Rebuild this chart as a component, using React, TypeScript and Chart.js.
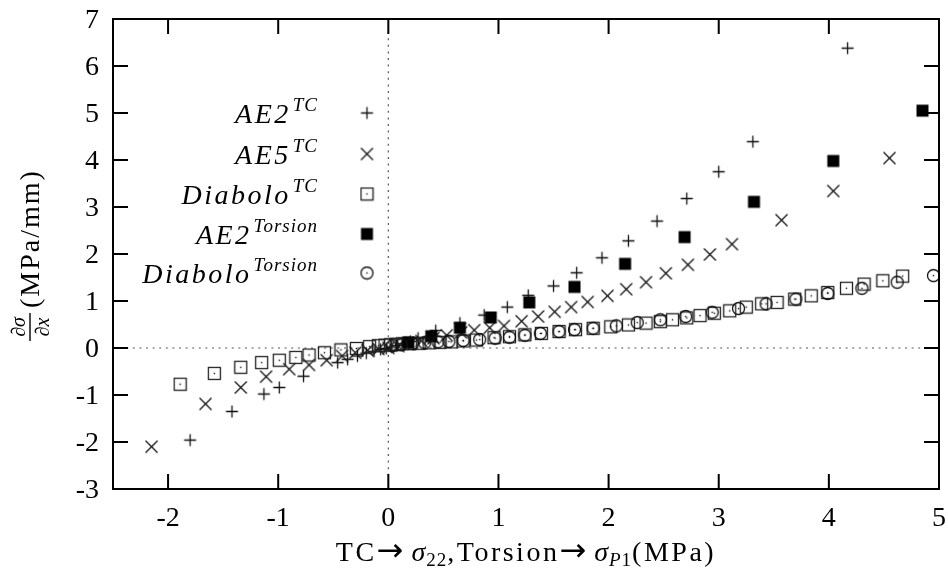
import React, { useEffect, useRef } from 'react';
import { Chart, registerables } from 'chart.js';

Chart.register(...registerables);

// ---- tick labels ----
const xTicks = [-2, -1, 0, 1, 2, 3, 4, 5];
const yTicks = [-3, -2, -1, 0, 1, 2, 3, 4, 5, 6, 7];

// ---- series: AE2 (TC) ----
const ae2TcX = [-1.80, -1.42, -1.13, -0.99, -0.77, -0.46, -0.37, -0.28, -0.20, -0.13, -0.07, -0.02, 0.03, 0.08, 0.14, 0.20, 0.27, 0.43, 0.65, 0.87, 1.08, 1.27, 1.50, 1.71, 1.94, 2.18, 2.44, 2.71, 3.00, 3.31, 4.17];
const ae2TcY = [-1.96, -1.35, -0.98, -0.84, -0.60, -0.31, -0.24, -0.17, -0.11, -0.07, -0.03, -0.01, 0.02, 0.05, 0.09, 0.14, 0.21, 0.37, 0.53, 0.70, 0.87, 1.12, 1.32, 1.60, 1.92, 2.28, 2.70, 3.18, 3.75, 4.39, 6.38];

// ---- series: AE5 (TC) ----
const ae5TcX = [-2.15, -1.66, -1.34, -1.11, -0.90, -0.72, -0.56, -0.42, -0.30, -0.19, -0.09, 0.00, 0.09, 0.19, 0.30, 0.41, 0.53, 0.66, 0.78, 0.92, 1.05, 1.21, 1.36, 1.51, 1.66, 1.81, 1.99, 2.16, 2.34, 2.52, 2.72, 2.92, 3.12, 3.57, 4.04, 4.55];
const ae5TcY = [-2.10, -1.19, -0.84, -0.61, -0.45, -0.36, -0.26, -0.17, -0.10, -0.05, -0.02, 0.00, 0.04, 0.09, 0.15, 0.21, 0.27, 0.33, 0.38, 0.43, 0.47, 0.57, 0.67, 0.77, 0.87, 0.98, 1.11, 1.25, 1.40, 1.59, 1.77, 1.99, 2.21, 2.72, 3.34, 4.04];

// ---- series: Diabolo (TC) ----
const diaTcX = [-1.89, -1.58, -1.34, -1.15, -0.99, -0.84, -0.72, -0.58, -0.43, -0.29, -0.17, -0.09, -0.03, 0.02, 0.07, 0.13, 0.20, 0.28, 0.37, 0.47, 0.57, 0.68, 0.80, 0.96, 1.10, 1.24, 1.39, 1.55, 1.70, 1.86, 2.02, 2.18, 2.34, 2.47, 2.58, 2.71, 2.83, 2.96, 3.10, 3.25, 3.39, 3.53, 3.69, 3.84, 3.99, 4.16, 4.32, 4.49, 4.67];
const diaTcY = [-0.77, -0.54, -0.41, -0.31, -0.26, -0.20, -0.15, -0.10, -0.04, -0.01, 0.03, 0.05, 0.06, 0.07, 0.08, 0.09, 0.10, 0.10, 0.11, 0.12, 0.13, 0.15, 0.17, 0.22, 0.24, 0.28, 0.31, 0.35, 0.39, 0.42, 0.45, 0.49, 0.53, 0.56, 0.60, 0.64, 0.69, 0.74, 0.79, 0.87, 0.94, 0.97, 1.04, 1.11, 1.18, 1.27, 1.36, 1.43, 1.53];

// ---- series: AE2 (Torsion) ----
const ae2ToX = [0.18, 0.39, 0.65, 0.93, 1.28, 1.69, 2.15, 2.69, 3.32, 4.04, 4.85];
const ae2ToY = [0.12, 0.25, 0.43, 0.65, 0.97, 1.30, 1.79, 2.36, 3.11, 3.98, 5.05];

// ---- series: Diabolo (Torsion) ----
const diaToX = [0.04, 0.12, 0.22, 0.33, 0.45, 0.55, 0.68, 0.83, 0.97, 1.10, 1.24, 1.38, 1.55, 1.69, 1.86, 2.07, 2.26, 2.47, 2.70, 2.94, 3.18, 3.43, 3.70, 3.99, 4.30, 4.62, 4.95];
const diaToY = [0.05, 0.07, 0.09, 0.11, 0.13, 0.14, 0.16, 0.18, 0.21, 0.23, 0.27, 0.31, 0.35, 0.39, 0.42, 0.47, 0.54, 0.60, 0.67, 0.76, 0.84, 0.94, 1.04, 1.16, 1.27, 1.40, 1.54];

// ---- legend text ----
const legendNames = ['AE2', 'AE5', 'Diabolo', 'AE2', 'Diabolo'];
const legendSups = ['TC', 'TC', 'TC', 'Torsion', 'Torsion'];

const FAM = '"Liberation Serif", "DejaVu Serif", serif';
const rm = (s: number) => `${s}px ${FAM}`;
const it = (s: number) => `italic ${s}px ${FAM}`;
const ARROW = '32px "DejaVu Sans", sans-serif';

type Part = { t: string; f: string; dy?: number; ls?: number; gap?: number };

function setLs(ctx: any, ls: number) {
  ctx.letterSpacing = `${ls}px`;
}
function richWidth(ctx: CanvasRenderingContext2D, parts: Part[]) {
  let w = 0;
  for (const p of parts) {
    ctx.font = p.f;
    setLs(ctx, p.ls || 0);
    w += ctx.measureText(p.t).width + (p.gap || 0);
  }
  setLs(ctx, 0);
  return w;
}
function drawRich(ctx: CanvasRenderingContext2D, parts: Part[], x: number, y: number) {
  let cx = x;
  ctx.textAlign = 'left';
  for (const p of parts) {
    ctx.font = p.f;
    setLs(ctx, p.ls || 0);
    ctx.fillText(p.t, cx, y + (p.dy || 0));
    cx += ctx.measureText(p.t).width + (p.gap || 0);
  }
  setLs(ctx, 0);
}

function mk(size: number, draw: (c: CanvasRenderingContext2D, s: number) => void) {
  const cv = document.createElement('canvas');
  cv.width = size;
  cv.height = size;
  const c = cv.getContext('2d')!;
  draw(c, size);
  return cv;
}

function makeMarkers() {
  const plus = mk(15, (c) => {
    c.strokeStyle = '#111';
    c.lineWidth = 1.3;
    c.beginPath();
    c.moveTo(1.5, 7.5); c.lineTo(13.5, 7.5);
    c.moveTo(7.5, 1.5); c.lineTo(7.5, 13.5);
    c.stroke();
  });
  const cross = mk(15, (c) => {
    c.strokeStyle = '#111';
    c.lineWidth = 1.3;
    c.beginPath();
    c.moveTo(1.5, 1.5); c.lineTo(13.5, 13.5);
    c.moveTo(13.5, 1.5); c.lineTo(1.5, 13.5);
    c.stroke();
  });
  const sqDot = mk(15, (c) => {
    c.strokeStyle = '#222';
    c.lineWidth = 1.3;
    c.strokeRect(1.5, 1.5, 12, 12);
    c.fillStyle = '#111';
    c.fillRect(6.8, 6.8, 1.4, 1.4);
  });
  const sqFill = mk(15, (c) => {
    c.fillStyle = '#000';
    c.fillRect(1.5, 1.5, 12, 12);
  });
  const circDot = mk(15, (c) => {
    c.strokeStyle = '#111';
    c.lineWidth = 1.3;
    c.beginPath();
    c.arc(7.5, 7.5, 6, 0, Math.PI * 2);
    c.stroke();
    c.fillStyle = '#111';
    c.fillRect(6.8, 6.8, 1.4, 1.4);
  });
  return [plus, cross, sqDot, sqFill, circDot];
}

const zip = (xs: number[], ys: number[]) => xs.map((x, i) => ({ x, y: ys[i] }));

export default function App() {
  const ref = useRef<HTMLCanvasElement>(null);

  useEffect(() => {
    document.body.style.margin = '0';
    const canvas = ref.current!;
    const markers = makeMarkers();
    const seriesData = [
      zip(ae2TcX, ae2TcY),
      zip(ae5TcX, ae5TcY),
      zip(diaTcX, diaTcY),
      zip(ae2ToX, ae2ToY),
      zip(diaToX, diaToY),
    ];

    const framePlugin = {
      id: 'frame',
      beforeDatasetsDraw(chart: any) {
        const { ctx, chartArea: a, scales } = chart;
        const xs = scales.x, ys = scales.y;
        ctx.save();
        ctx.strokeStyle = '#555';
        ctx.lineWidth = 1.2;
        ctx.setLineDash([2, 4.6]);
        const x0 = xs.getPixelForValue(0);
        const y0 = ys.getPixelForValue(0);
        ctx.beginPath();
        ctx.moveTo(x0, a.bottom); ctx.lineTo(x0, a.top);
        ctx.stroke();
        ctx.beginPath();
        ctx.moveTo(a.left, y0); ctx.lineTo(a.right, y0);
        ctx.stroke();
        ctx.restore();
      },
      afterDatasetsDraw(chart: any) {
        const { ctx, chartArea: a, scales } = chart;
        const xs = scales.x, ys = scales.y;
        ctx.save();
        ctx.setLineDash([]);
        ctx.strokeStyle = '#000';
        ctx.fillStyle = '#000';
        // frame
        ctx.lineWidth = 2;
        ctx.strokeRect(a.left, a.top, a.right - a.left, a.bottom - a.top);
        // inward ticks
        const TL = 15;
        ctx.beginPath();
        for (const t of xs.ticks) {
          const px = xs.getPixelForValue(t.value);
          ctx.moveTo(px, a.bottom); ctx.lineTo(px, a.bottom - TL);
          ctx.moveTo(px, a.top); ctx.lineTo(px, a.top + TL);
        }
        for (const t of ys.ticks) {
          const py = ys.getPixelForValue(t.value);
          ctx.moveTo(a.left, py); ctx.lineTo(a.left + TL, py);
          ctx.moveTo(a.right, py); ctx.lineTo(a.right - TL, py);
        }
        ctx.stroke();
        // tick labels
        ctx.textBaseline = 'alphabetic';
        ctx.font = rm(28);
        ctx.textAlign = 'center';
        for (const t of xs.ticks) {
          const px = xs.getPixelForValue(t.value);
          ctx.fillText(String(t.value), px, 526);
        }
        ctx.textAlign = 'right';
        for (const t of ys.ticks) {
          const py = ys.getPixelForValue(t.value);
          ctx.fillText(String(t.value), 99, py + 9);
        }
        // legend
        const legX = 318;
        const markX = 367;
        const rowY = [113, 154, 194, 234, 273];
        for (let i = 0; i < 5; i++) {
          const parts: Part[] = [
            { t: legendNames[i], f: it(28), ls: 2.5, gap: 2 },
            { t: legendSups[i], f: it(19), dy: -12, ls: 1 },
          ];
          const w = richWidth(ctx, parts);
          drawRich(ctx, parts, legX - w, rowY[i] + 10);
          const m = markers[i];
          ctx.drawImage(m, markX - m.width / 2, rowY[i] - m.height / 2);
        }
        // x title
        const xParts: Part[] = [
          { t: 'TC', f: rm(28), ls: 2.5 },
          { t: '\u2192', f: ARROW, gap: 8 },
          { t: '\u03c3', f: it(28), ls: 1 },
          { t: '22', f: rm(19), dy: 5, ls: 1 },
          { t: ',Torsion', f: rm(28), ls: 2.5 },
          { t: '\u2192', f: ARROW, gap: 8 },
          { t: '\u03c3', f: it(28), ls: 1 },
          { t: 'P', f: it(19), dy: 5, ls: 1 },
          { t: '1', f: rm(19), dy: 5, ls: 1 },
          { t: '(MPa)', f: rm(28), ls: 2.5 },
        ];
        const xw = richWidth(ctx, xParts);
        drawRich(ctx, xParts, 526 - xw / 2, 561);
        // y title (rotated)
        ctx.save();
        ctx.translate(30, 327);
        ctx.rotate(-Math.PI / 2);
        ctx.fillRect(-14, -0.7, 28, 1.4);
        ctx.textAlign = 'center';
        ctx.font = it(20);
        ctx.fillText('\u2202\u03c3', 0, -5);
        ctx.fillText('\u2202x', 0, 19);
        ctx.restore();
        ctx.save();
        ctx.translate(39, 308);
        ctx.rotate(-Math.PI / 2);
        ctx.textAlign = 'left';
        ctx.font = rm(28);
        setLs(ctx, 2);
        ctx.fillText('(MPa/mm)', 0, 0);
        setLs(ctx, 0);
        ctx.restore();
        ctx.restore();
      },
    };

    const chart = new Chart(canvas, {
      type: 'scatter',
      data: {
        datasets: seriesData.map((d, i) => ({
          label: legendNames[i] + legendSups[i],
          data: d,
          pointStyle: markers[i] as any,
          pointRadius: 7,
          showLine: false,
          order: 4 - i,
        })),
      },
      options: {
        responsive: false,
        animation: false,
        devicePixelRatio: 1,
        events: [],
        layout: { padding: { left: 0, right: 9, top: 19, bottom: 0 } },
        plugins: { legend: { display: false }, tooltip: { enabled: false } },
        scales: {
          x: {
            type: 'linear',
            min: -2.5,
            max: 5,
            afterBuildTicks: (s: any) => { s.ticks = xTicks.map((v) => ({ value: v })); },
            afterFit: (s: any) => { s.height = 84; },
            grid: { display: false },
            border: { display: false },
            ticks: { display: false },
          },
          y: {
            type: 'linear',
            min: -3,
            max: 7,
            afterBuildTicks: (s: any) => { s.ticks = yTicks.map((v) => ({ value: v })); },
            afterFit: (s: any) => { s.width = 113; },
            grid: { display: false },
            border: { display: false },
            ticks: { display: false },
          },
        },
      } as any,
      plugins: [framePlugin],
    });
    return () => chart.destroy();
  }, []);

  return (
    <div style={{ width: 948, height: 573 }}>
      <canvas ref={ref} width={948} height={573} style={{ display: 'block', width: 948, height: 573 }} />
    </div>
  );
}
